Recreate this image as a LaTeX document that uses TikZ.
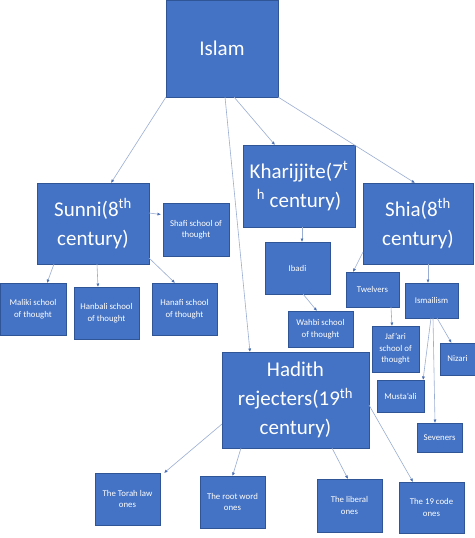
\documentclass[tikz,border=0pt]{standalone}
\usepackage{fontspec}
\setmainfont{Carlito}
\usetikzlibrary{arrows.meta}

\definecolor{boxblue}{HTML}{4472C4}
\definecolor{edgeblue}{HTML}{2F5597}
\definecolor{linkgrey}{HTML}{9AAED3}
\definecolor{tipblue}{HTML}{4A6FB5}

\def\BigFont{\fontsize{21}{29}\selectfont}
\def\SmallFont{\fontsize{8.8}{11.5}\selectfont}

\tikzset{
    box/.style={draw=edgeblue, line width=0.6pt, fill=boxblue, text=white,
        inner sep=0pt, outer sep=0pt, align=center},
    bigbox/.style={box, font=\BigFont},
    smallbox/.style={box, font=\SmallFont},
    link/.style={draw=linkgrey, line width=0.6pt,
        -{Latex[length=3.5pt,width=3pt,color=tipblue]}}
}

\begin{document}
\begin{tikzpicture}[x=1pt,y=-1pt]

% page area
\useasboundingbox (0,0) rectangle (474,538);
\fill[white] (0,0) rectangle (474,538);

% =====================================================
% TOP LEVEL
% =====================================================
\node[bigbox, minimum width=112, minimum height=97] (islam) at (222,48.5) {Islam};

% =====================================================
% BRANCHES
% =====================================================
\node[bigbox, minimum width=112, minimum height=81] (sunni) at (93,223.5)
    {Sunni(8\textsuperscript{th}\\century)};
\node[bigbox, minimum width=112, minimum height=82] (khari) at (299,186)
    {Kharijjite(7\textsuperscript{t}\\\textsuperscript{h} century)};
\node[bigbox, minimum width=110, minimum height=81] (shia) at (418,223.5)
    {Shia(8\textsuperscript{th}\\century)};
\node[bigbox, minimum width=147, minimum height=96] (hadith) at (295.5,400)
    {Hadith\\rejecters(19\textsuperscript{th}\\century)};

% =====================================================
% SUNNI SCHOOLS
% =====================================================
\node[smallbox, minimum width=66, minimum height=53] (shafi) at (196,229.5)
    {Shafi school of\\thought};
\node[smallbox, minimum width=66, minimum height=52] (maliki) at (33,309)
    {Maliki school\\of thought};
\node[smallbox, minimum width=65, minimum height=52] (hanbali) at (106.5,313)
    {Hanbali school\\of thought};
\node[smallbox, minimum width=65, minimum height=52] (hanafi) at (184.5,309)
    {Hanafi school\\of thought};

% =====================================================
% KHARIJITE SCHOOLS
% =====================================================
\node[smallbox, minimum width=65, minimum height=52] (ibadi) at (297.5,268) {Ibadi};
\node[smallbox, minimum width=65, minimum height=36] (wahbi) at (320.5,329)
    {Wahbi school\\of thought};

% =====================================================
% SHIA SCHOOLS
% =====================================================
\node[smallbox, minimum width=53, minimum height=35] (twelvers) at (372.5,289.5) {Twelvers};
\node[smallbox, minimum width=53, minimum height=35] (ismail) at (431.5,300.5) {Ismailism};
\node[smallbox, minimum width=47, minimum height=46] (jafari) at (395.5,349)
    {Jaf’ari\\school of\\thought};
\node[smallbox, minimum width=35, minimum height=32] (nizari) at (457.5,359) {Nizari};
\node[smallbox, minimum width=47, minimum height=32] (mustaali) at (400.5,396) {Musta’ali};
\node[smallbox, minimum width=45, minimum height=29] (seveners) at (439.5,437.5) {Seveners};

% =====================================================
% HADITH REJECTER GROUPS
% =====================================================
\node[smallbox, minimum width=65, minimum height=52] (torah) at (127.5,499)
    {The Torah law\\ones};
\node[smallbox, minimum width=65, minimum height=52] (root) at (232.5,502)
    {The root word\\ones};
\node[smallbox, minimum width=65, minimum height=53] (liberal) at (349.5,505.5)
    {The liberal\\ones};
\node[smallbox, minimum width=65, minimum height=51] (code) at (431.5,507.5)
    {The 19 code\\ones};

% =====================================================
% CONNECTORS
% =====================================================
\draw[link] (islam.south west) -- ([xshift=18pt]sunni.north);
\draw[link] ([xshift=3pt]islam.south) -- ([xshift=-45.5pt]hadith.north);
\draw[link] ([xshift=12pt]islam.south) -- ([xshift=-24pt]khari.north);
\draw[link] (islam.south east) -- ([xshift=-3pt]shia.north);

\draw[link] ([yshift=10.5pt]sunni.east) -- ([yshift=15pt,xshift=-2pt]shafi.west);
\draw[link] ([xshift=-39pt]sunni.south) -- ([xshift=14pt]maliki.north);
\draw[link] ([xshift=4pt]sunni.south) -- ([xshift=-8.5pt]hanbali.north);
\draw[link] ([yshift=6pt]sunni.south east) -- ([xshift=-9.5pt]hanafi.north);

\draw[link] ([xshift=3pt]khari.south) -- ([xshift=4.5pt]ibadi.north);
\draw[link] ([xshift=5.5pt]ibadi.south) -- ([xshift=-3.5pt]wahbi.north);

\draw[link] ([yshift=-28.5pt]shia.west) -- ([xshift=-19.5pt]twelvers.north);
\draw[link] ([xshift=10pt]shia.south) -- ([xshift=-3.5pt]ismail.north);
\draw[link] ([xshift=18.5pt]twelvers.south) -- ([xshift=-3.5pt]jafari.north);
\draw[link] ([xshift=5.5pt]ismail.south) -- ([xshift=-6pt]nizari.north);
\draw[link] ([xshift=-0.5pt]ismail.south) -- ([xshift=-1pt]mustaali.north east);
\draw[link] ([xshift=1.5pt]ismail.south) -- ([xshift=-4.5pt]seveners.north);

\draw[link] ([yshift=-24pt]hadith.west) -- ([xshift=4pt]torah.north east);
\draw[link] ([xshift=19pt]hadith.south west) -- (root.north);
\draw[link] ([xshift=36.5pt]hadith.south) -- ([xshift=-1.5pt]liberal.north);
\draw[link] ([yshift=-5pt]hadith.east) -- ([xshift=-18.5pt]code.north);

\end{tikzpicture}
\end{document}
